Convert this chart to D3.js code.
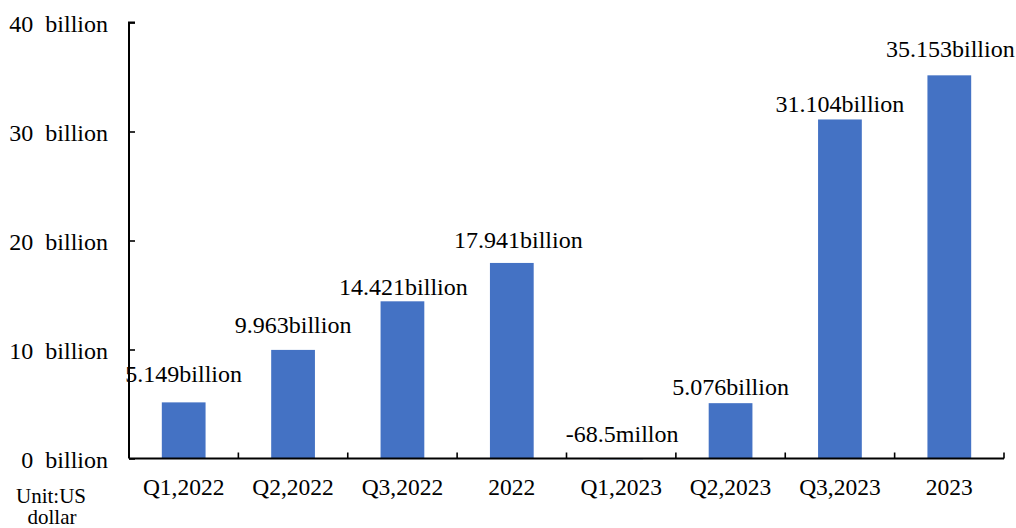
<!DOCTYPE html>
<html>
<head>
<meta charset="utf-8">
<script src="https://cdn.jsdelivr.net/npm/d3@7"></script>
<style>
  html, body { margin: 0; padding: 0; background: #fff; }
</style>
</head>
<body>
<svg id="chart" width="1016" height="528"></svg>
<script>
// Net profit by period (billions of US dollars)
const categories = ["Q1,2022", "Q2,2022", "Q3,2022", "2022", "Q1,2023", "Q2,2023", "Q3,2023", "2023"];
const values = [5.149, 9.963, 14.421, 17.941, -0.0685, 5.076, 31.104, 35.153];
const valueLabels = ["5.149billion", "9.963billion", "14.421billion", "17.941billion", "-68.5millon", "5.076billion", "31.104billion", "35.153billion"];
const yTicks = [0, 10, 20, 30, 40];
const yTickLabels = ["0  billion", "10  billion", "20  billion", "30  billion", "40  billion"];

// hand-placed label nudges: gap above the bar top and sideways shift, in px
const labelGap = [20, 17, 6, 15, 17, 8, 7, 18];
const labelShift = [0, 0, 1, 6.5, 1, 0, 0, 1];

const FONT = "'Liberation Serif', 'Times New Roman', Times, serif";

const svg = d3.select("#chart").attr("font-family", FONT).style("font-family", FONT);
const plotLeft = 129, plotRight = 1004, plotTop = 22.5, plotBottom = 458.5;

const x = d3.scaleBand().domain(categories).range([plotLeft, plotRight]).padding(0);
const y = d3.scaleLinear().domain([0, 40]).range([plotBottom, plotTop]);
const barW = x.bandwidth() * 0.4;

// bars
svg.append("g").selectAll("rect")
  .data(values)
  .join("rect")
  .attr("x", (d, i) => x(categories[i]) + (x.bandwidth() - barW) / 2)
  .attr("y", d => y(Math.max(0, d)))
  .attr("width", barW)
  .attr("height", d => Math.abs(y(d) - y(0)))
  .attr("fill", "#4472C4");

// value labels
svg.append("g").selectAll("text")
  .data(values)
  .join("text")
  .attr("x", (d, i) => x(categories[i]) + x.bandwidth() / 2 + labelShift[i])
  .attr("y", (d, i) => y(Math.max(0, d)) - labelGap[i])
  .attr("text-anchor", "middle")
  .attr("fill", "#000")
  .style("font-family", FONT)
  .style("font-size", "24px")
  .text((d, i) => valueLabels[i]);

// y axis, ticks pointing into the plot
const yAxis = d3.axisRight(y)
  .tickValues(yTicks)
  .tickSize(6)
  .tickFormat((d, i) => yTickLabels[i]);
const gy = svg.append("g").attr("transform", `translate(${plotLeft},0)`).call(yAxis);
gy.attr("font-family", null).attr("font-size", null);
gy.select(".domain").attr("stroke", "#000").attr("stroke-width", 2).attr("d", `M6,${plotTop}H0V${plotBottom}`);
gy.selectAll(".tick line").attr("stroke", "#000").attr("stroke-width", 1.6);
gy.selectAll(".tick text")
  .attr("x", -21)
  .attr("text-anchor", "end")
  .attr("dy", "0.37em")
  .attr("fill", "#000")
  .style("font-size", "24px")
  .style("font-family", FONT)
  .style("white-space", "pre");

// x axis with ticks at category boundaries
const gx = svg.append("g").attr("transform", `translate(0,${plotBottom})`);
gx.append("line")
  .attr("x1", plotLeft).attr("x2", plotRight)
  .attr("stroke", "#000").attr("stroke-width", 2);
const bounds = categories.map(c => x(c) + x.bandwidth());
gx.selectAll("line.tk")
  .data(bounds)
  .join("line")
  .attr("class", "tk")
  .attr("x1", d => d).attr("x2", d => d)
  .attr("y1", 0).attr("y2", -6)
  .attr("stroke", "#000").attr("stroke-width", 1.6);
gx.selectAll("text")
  .data(categories)
  .join("text")
  .attr("x", d => x(d) + x.bandwidth() / 2)
  .attr("y", 36.5)
  .attr("text-anchor", "middle")
  .attr("fill", "#000")
  .style("font-family", FONT)
  .style("font-size", "23.5px")
  .text(d => d);

// unit note
const unit = svg.append("text").attr("text-anchor", "middle").attr("fill", "#000")
  .style("font-family", FONT).style("font-size", "21px");
unit.append("tspan").attr("x", 51).attr("y", 502.5).text("Unit:US");
unit.append("tspan").attr("x", 52).attr("y", 524).text("dollar");
</script>
</body>
</html>
